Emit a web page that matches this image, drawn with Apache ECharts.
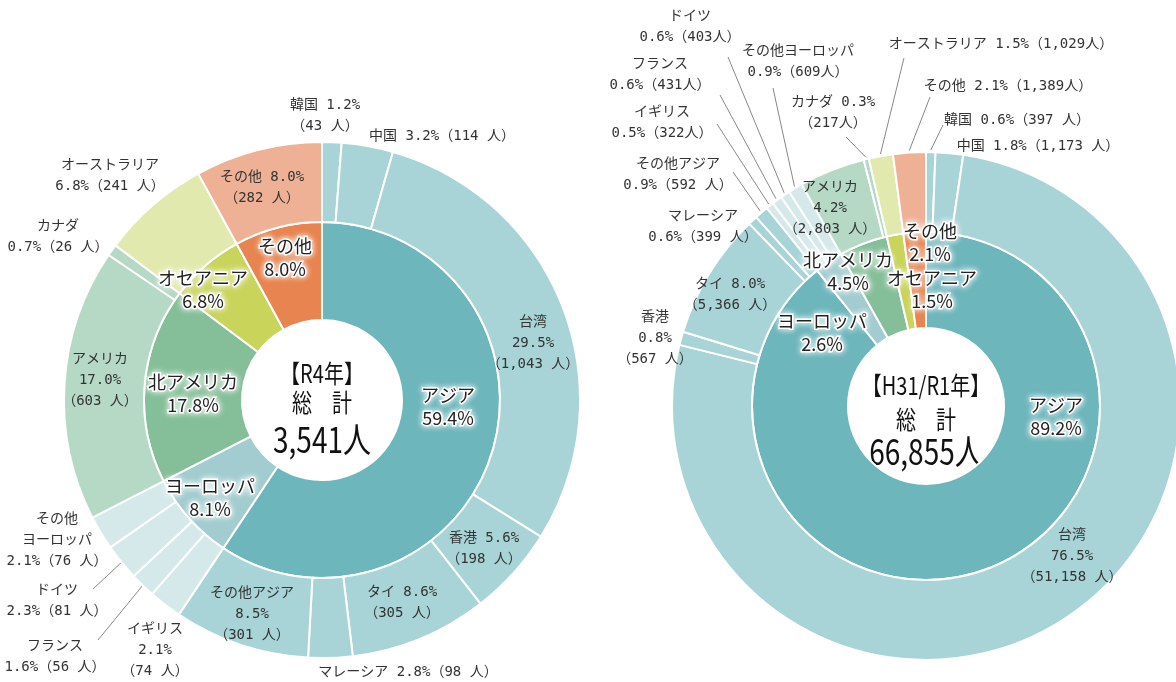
<!DOCTYPE html>
<html><head><meta charset="utf-8">
<script src="https://cdn.jsdelivr.net/npm/echarts@6/dist/echarts.min.js"></script>
<style>html,body{margin:0;padding:0;background:#fff}#c{width:1176px;height:682px}</style>
</head><body><div id="c"></div>
<script>
// ---------- data ----------
const innerNames = ['アジア','ヨーロッパ','北アメリカ','オセアニア','その他'];
const innerR4 = [2102, 287, 629, 241, 282];
const innerPctR4 = ['59.4','8.1','17.8','6.8','8.0'];
const innerR1 = [59652, 1765, 3020, 1029, 1389];
const innerPctR1 = ['89.2','2.6','4.5','1.5','2.1'];

const outerNames = ['韓国','中国','台湾','香港','タイ','マレーシア','その他アジア','イギリス','フランス','ドイツ','その他ヨーロッパ','アメリカ','カナダ','オーストラリア','その他'];
const outerGroup = [0,0,0,0,0,0,0,1,1,1,1,2,2,3,4];
const outerR4 = [43,114,1043,198,305,98,301,74,56,81,76,603,26,241,282];
const outerPctR4 = ['1.2','3.2','29.5','5.6','8.6','2.8','8.5','2.1','1.6','2.3','2.1','17.0','0.7','6.8','8.0'];
const outerR1 = [397,1173,51158,567,5366,399,592,322,431,403,609,2803,217,1029,1389];
const outerPctR1 = ['0.6','1.8','76.5','0.8','8.0','0.6','0.9','0.5','0.6','0.6','0.9','4.2','0.3','1.5','2.1'];

const titleR4 = ['【R4年】','総　計','3,541人'];
const titleR1 = ['【H31/R1年】','総　計','66,855人'];

// ---------- style / layout ----------
const innerColors = ['#6db6bc','#a2ccd0','#85bf99','#c9d45b','#e7844f'];
const outerColors = ['#a8d4d7','#d5e9eb','#b5d9c5','#e2e9ae','#efb196'];
const CL = [322, 400], CR = [926, 406];

// label text templates & positions: [template, x, y, lineEnd or null]
const outerLabR4 = [
  ['{n} {p}%\n（{v} 人）', 325, 116, null],
  ['{n} {p}%（{v} 人）', 442, 136, null],
  ['{n}\n{p}%\n（{v} 人）', 533, 343, null],
  ['{n} {p}%\n（{v} 人）', 484, 549, null],
  ['{n} {p}%\n（{v} 人）', 402, 603, null],
  ['{n} {p}%（{v} 人）', 408, 672, null],
  ['{n}\n{p}%\n（{v} 人）', 252, 614, null],
  ['{n}\n{p}%\n（{v} 人）', 155, 650, null],
  ['{n}\n{p}%（{v} 人）', 55, 657, [98, 640]],
  ['{n}\n{p}%（{v} 人）', 57, 601, [93, 589]],
  ['その他\nヨーロッパ\n{p}%（{v} 人）', 57, 540, null],
  ['{n}\n{p}%\n（{v} 人）', 100, 380, null],
  ['{n}\n{p}%（{v} 人）', 58, 237, null],
  ['{n}\n{p}%（{v} 人）', 110, 176, null],
  ['{n} {p}%\n（{v} 人）', 262, 188, null]
];
const outerLabR1 = [
  ['{n} {p}%（{v} 人）', 1017, 120, [943, 125]],
  ['{n} {p}%（{v} 人）', 1038, 146, null],
  ['{n}\n{p}%\n（{v} 人）', 1072, 556, null],
  ['{n}\n{p}%\n（{v} 人）', 655, 338, null],
  ['{n} {p}%\n（{v} 人）', 730, 295, null],
  ['{n}\n{p}%（{v} 人）', 703, 227, null],
  ['{n}\n{p}%（{v} 人）', 678, 175, [733, 172]],
  ['{n}\n{p}%（{v}人）', 662, 123, [717, 124]],
  ['{n}\n{p}%（{v}人）', 660, 75, [720, 95]],
  ['{n}\n{p}%（{v}人）', 690, 27, [728, 57]],
  ['{n}\n{p}%（{v}人）', 798, 62, [773, 88]],
  ['{n}\n{p}%\n（{v} 人）', 830, 208, null],
  ['{n} {p}%\n（{v}人）', 833, 113, [846, 137]],
  ['{n} {p}%（{v}人）', 1001, 44, [904, 58]],
  ['{n} {p}%（{v}人）', 1008, 86, [930, 97]]
];
const innerPosR4 = [[448,407],[210,498],[193,394],[203,290],[285,258]];
const innerPosR1 = [[1056,417],[822,333],[848,272],[932,290],[930,243]];

const FONT = '"Noto Sans CJK JP", "Noto Sans", sans-serif';
const LABFONT = '"DejaVu Sans Mono", "Noto Sans CJK JP", sans-serif';
const fmt = v => v.toLocaleString('en-US');

function fill(t, n, p, v) {
  return t.replace('{n}', n).replace('{p}', p).replace('{v}', fmt(v));
}

function outerData(vals, pcts, labs) {
  return vals.map((v, i) => ({
    value: v, name: outerNames[i],
    itemStyle: { color: outerColors[outerGroup[i]] },
    label: { formatter: fill(labs[i][0], outerNames[i], pcts[i], v) },
    labelLine: { show: !!labs[i][3] }
  }));
}
function innerData(vals, pcts) {
  return vals.map((v, i) => ({
    value: v, name: innerNames[i],
    itemStyle: { color: innerColors[i] },
    label: { formatter: innerNames[i] + '\n' + pcts[i] + '%' }
  }));
}

function midPoint(vals, idx, center, r) {
  const tot = vals.reduce((a, b) => a + b, 0);
  let before = 0;
  for (let i = 0; i < idx; i++) before += vals[i];
  const a = (before + vals[idx] / 2) / tot * Math.PI * 2;
  return [center[0] + r * Math.sin(a), center[1] - r * Math.cos(a)];
}

function outerLayout(vals, labs, center) {
  return function (p) {
    const L = labs[p.dataIndex];
    const res = { x: L[1], y: L[2], align: 'center', verticalAlign: 'middle' };
    if (L[3]) {
      const s = midPoint(vals, p.dataIndex, center, 256);
      res.labelLinePoints = [s, L[3], L[3]];
    }
    return res;
  };
}
function innerLayout(pos) {
  return function (p) {
    const q = pos[p.dataIndex];
    return { x: q[0], y: q[1], align: 'center', verticalAlign: 'middle' };
  };
}

const outerLabelStyle = {
  show: true, position: 'outside', color: '#333', fontSize: 14, lineHeight: 21,
  fontFamily: LABFONT, align: 'center'
};
const innerLabelStyle = {
  show: true, position: 'inside', color: '#222', fontSize: 18, lineHeight: 23,
  fontFamily: FONT, align: 'center',
  textBorderColor: '#fff', textBorderWidth: 3, textShadowColor: '#fff', textShadowBlur: 6
};

function pieSeries(center, radius, data, label, layout) {
  return {
    type: 'pie', center: center, radius: radius, startAngle: 90, clockwise: true,
    silent: true, animation: false, avoidLabelOverlap: false,
    itemStyle: { borderColor: '#fff', borderWidth: 2 },
    label: label,
    labelLine: { show: false, lineStyle: { color: '#888', width: 1 }, length: 5, length2: 5 },
    labelLayout: layout,
    data: data
  };
}

function ctext(str, c, dy, size) {
  return {
    type: 'text', x: c[0], y: c[1] + dy, scaleX: 0.8, scaleY: 1,
    style: { text: str, x: 0, y: 0, textAlign: 'center', textVerticalAlign: 'middle',
             align: 'center', verticalAlign: 'middle', font: size + 'px ' + FONT, fill: '#111' }
  };
}
function centerGraphic(c, r, lines, off) {
  return {
    type: 'group', z: 100, children: [
      { type: 'circle', shape: { cx: c[0], cy: c[1], r: r }, style: { fill: '#fff' } },
      ctext(lines[0], c, off[0], 25),
      ctext(lines[1], c, off[1], 25),
      ctext(lines[2], c, off[2], 35)
    ]
  };
}

const chart = echarts.init(document.getElementById('c'), null, { renderer: 'canvas' });
chart.setOption({
  animation: false,
  backgroundColor: '#fff',
  series: [
    pieSeries(CL, [80, 178], innerData(innerR4, innerPctR4), innerLabelStyle, innerLayout(innerPosR4)),
    pieSeries(CL, [178, 258], outerData(outerR4, outerPctR4, outerLabR4), outerLabelStyle, outerLayout(outerR4, outerLabR4, CL)),
    pieSeries(CR, [78, 174], innerData(innerR1, innerPctR1), innerLabelStyle, innerLayout(innerPosR1)),
    pieSeries(CR, [174, 254], outerData(outerR1, outerPctR1, outerLabR1), outerLabelStyle, outerLayout(outerR1, outerLabR1, CR))
  ],
  graphic: [
    centerGraphic([322, 404], 86, titleR4, [-31, -2, 36]),
    centerGraphic([926, 416], 88, titleR1, [-31, 3, 36])
  ]
});
</script></body></html>
